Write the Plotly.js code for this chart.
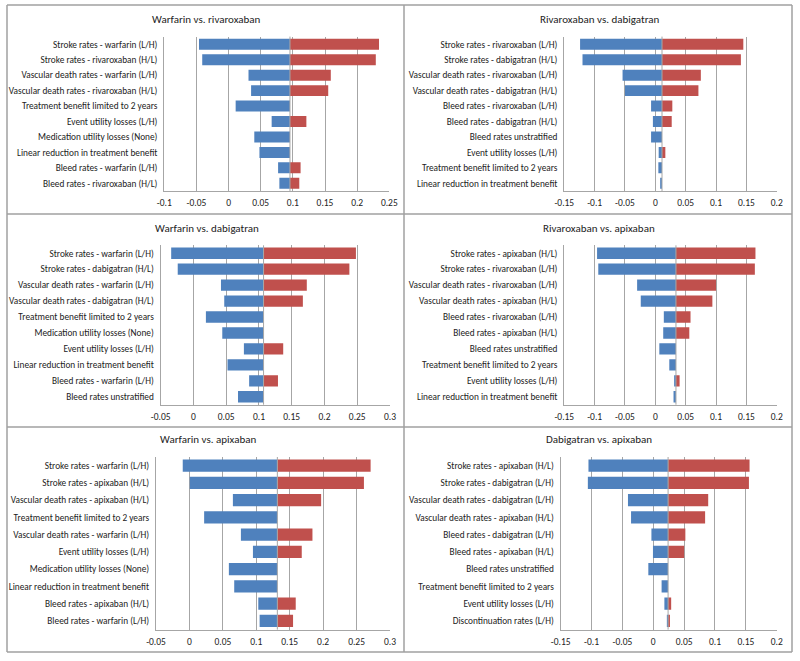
<!DOCTYPE html>
<html>
<head>
<meta charset="utf-8">
<script src="https://cdn.plot.ly/plotly-3.0.1.min.js"></script>
<style>html,body{margin:0;padding:0;background:#fff;}#chart{width:800px;height:661px;}</style>
</head>
<body>
<div id="chart"></div>
<script>
// ---------- DATA ----------
const titles = ["Warfarin vs. rivaroxaban", "Rivaroxaban vs. dabigatran", "Warfarin vs. dabigatran",
                "Rivaroxaban vs. apixaban", "Warfarin vs. apixaban", "Dabigatran vs. apixaban"];

const cats1 = ["Stroke rates - warfarin (L/H)", "Stroke rates - rivaroxaban (H/L)", "Vascular death rates - warfarin (L/H)",
  "Vascular death rates - rivaroxaban (H/L)", "Treatment benefit limited to 2 years", "Event utility losses (L/H)",
  "Medication utility losses (None)", "Linear reduction in treatment benefit", "Bleed rates - warfarin (L/H)",
  "Bleed rates - rivaroxaban (H/L)"];
const low1  = [-0.046, -0.041, 0.031, 0.035, 0.011, 0.067, 0.040, 0.048, 0.077, 0.079];
const high1 = [0.234, 0.229, 0.159, 0.155, null, 0.121, null, null, 0.112, 0.110];
const base1 = 0.0955;

const cats2 = ["Stroke rates - rivaroxaban (L/H)", "Stroke rates - dabigatran (H/L)", "Vascular death rates - rivaroxaban (L/H)",
  "Vascular death rates - dabigatran (H/L)", "Bleed rates - rivaroxaban (L/H)", "Bleed rates - dabigatran (H/L)",
  "Bleed rates unstratified", "Event utility losses (L/H)", "Treatment benefit limited to 2 years",
  "Linear reduction in treatment benefit"];
const low2  = [-0.124, -0.120, -0.054, -0.050, -0.007, -0.004, -0.007, 0.0055, 0.005, 0.008];
const high2 = [0.145, 0.141, 0.075, 0.071, 0.028, 0.027, null, 0.0165, null, null];
const base2 = 0.011;

const cats3 = ["Stroke rates - warfarin (L/H)", "Stroke rates - dabigatran (H/L)", "Vascular death rates - warfarin (L/H)",
  "Vascular death rates - dabigatran (H/L)", "Treatment benefit limited to 2 years", "Medication utility losses (None)",
  "Event utility losses (L/H)", "Linear reduction in treatment benefit", "Bleed rates - warfarin (L/H)",
  "Bleed rates unstratified"];
const low3  = [-0.034, -0.024, 0.042, 0.047, 0.019, 0.044, 0.077, 0.052, 0.085, 0.068];
const high3 = [0.248, 0.238, 0.173, 0.167, null, null, 0.137, null, 0.129, null];
const base3 = 0.107;

const cats4 = ["Stroke rates - apixaban (H/L)", "Stroke rates - rivaroxaban (L/H)", "Vascular death rates - rivaroxaban (L/H)",
  "Vascular death rates - apixaban (H/L)", "Bleed rates - rivaroxaban (L/H)", "Bleed rates - apixaban (H/L)",
  "Bleed rates unstratified", "Treatment benefit limited to 2 years", "Event utility losses (L/H)",
  "Linear reduction in treatment benefit"];
const low4  = [-0.096, -0.094, -0.030, -0.024, 0.014, 0.013, 0.0066, 0.023, 0.031, 0.030];
const high4 = [0.165, 0.164, 0.100, 0.094, 0.058, 0.056, null, null, 0.040, null];
const base4 = 0.034;

const cats5 = ["Stroke rates - warfarin (L/H)", "Stroke rates - apixaban (H/L)", "Vascular death rates - apixaban (H/L)",
  "Treatment benefit limited to 2 years", "Vascular death rates - warfarin (L/H)", "Event utility losses (L/H)",
  "Medication utility losses (None)", "Linear reduction in treatment benefit", "Bleed rates - apixaban (H/L)",
  "Bleed rates - warfarin (L/H)"];
const low5  = [-0.010, 0.0005, 0.065, 0.022, 0.077, 0.095, 0.059, 0.067, 0.103, 0.105];
const high5 = [0.271, 0.261, 0.197, null, 0.184, 0.168, null, null, 0.159, 0.155];
const base5 = 0.1315;

const cats6 = ["Stroke rates - apixaban (H/L)", "Stroke rates - dabigatran (L/H)", "Vascular death rates - dabigatran (L/H)",
  "Vascular death rates - apixaban (H/L)", "Bleed rates - dabigatran (L/H)", "Bleed rates - apixaban (H/L)",
  "Bleed rates unstratified", "Treatment benefit limited to 2 years", "Event utility losses (L/H)",
  "Discontinuation rates (L/H)"];
const low6  = [-0.105, -0.106, -0.041, -0.036, -0.003, -0.0005, -0.008, 0.0135, 0.018, 0.022];
const high6 = [0.156, 0.155, 0.089, 0.084, 0.052, 0.050, null, null, 0.029, 0.027];
const base6 = 0.024;

const ticksA = [-0.1, -0.05, 0, 0.05, 0.1, 0.15, 0.2, 0.25];
const ticksAText = ["-0.1", "-0.05", "0", "0.05", "0.1", "0.15", "0.2", "0.25"];
const ticksB = [-0.15, -0.1, -0.05, 0, 0.05, 0.1, 0.15, 0.2];
const ticksBText = ["-0.15", "-0.1", "-0.05", "0", "0.05", "0.1", "0.15", "0.2"];
const ticksC = [-0.05, 0, 0.05, 0.1, 0.15, 0.2, 0.25, 0.3];
const ticksCText = ["-0.05", "0", "0.05", "0.1", "0.15", "0.2", "0.25", "0.3"];

// ---------- LAYOUT GEOMETRY (pixels) ----------
const W = 800, H = 661;
const panels = [
  {cats: cats1, low: low1, high: high1, base: base1, range: [-0.1, 0.25], tv: ticksA, tt: ticksAText,
   px: [164.3, 389.3], py: [36.6, 191.0], title: [207, 19.5]},
  {cats: cats2, low: low2, high: high2, base: base2, range: [-0.15, 0.2], tv: ticksB, tt: ticksBText,
   px: [564.3, 776.7], py: [36.6, 191.0], title: [600, 19.5]},
  {cats: cats3, low: low3, high: high3, base: base3, range: [-0.05, 0.3], tv: ticksC, tt: ticksCText,
   px: [160.7, 390.0], py: [245.3, 404.7], title: [207.3, 228.3]},
  {cats: cats4, low: low4, high: high4, base: base4, range: [-0.15, 0.2], tv: ticksB, tt: ticksBText,
   px: [564.3, 776.7], py: [245.3, 404.7], title: [599, 228.3]},
  {cats: cats5, low: low5, high: high5, base: base5, range: [-0.05, 0.3], tv: ticksC, tt: ticksCText,
   px: [156.0, 390.0], py: [457.0, 629.6], title: [207.7, 440]},
  {cats: cats6, low: low6, high: high6, base: base6, range: [-0.15, 0.2], tv: ticksB, tt: ticksBText,
   px: [560.7, 776.7], py: [457.0, 629.6], title: [599.2, 440]}
];

const FONT = "'Carlito', 'Lato', 'Open Sans', sans-serif";
const BLUE = "#4F81BD", RED = "#C0504D";
const GRID = "#a6a6a6", BORDER = "#a0a0a0", TEXT = "#222222";

const data = [];
const layout = {
  width: W, height: H, margin: {l: 0, r: 0, t: 0, b: 0},
  paper_bgcolor: "#ffffff", plot_bgcolor: "#ffffff",
  showlegend: false, barmode: "overlay", bargap: 0.29,
  font: {family: FONT, size: 9, color: TEXT},
  annotations: [], shapes: []
};

panels.forEach((p, i) => {
  const n = i + 1;
  const xa = n === 1 ? "x" : "x" + n;
  const ya = n === 1 ? "y" : "y" + n;
  data.push({
    type: "bar", orientation: "h", xaxis: xa, yaxis: ya,
    y: p.cats, x: p.low.map(v => v - p.base), base: p.base,
    marker: {color: BLUE, line: {width: 0}}, hoverinfo: "skip"
  });
  data.push({
    type: "bar", orientation: "h", xaxis: xa, yaxis: ya,
    y: p.cats, x: p.high.map(v => v === null ? null : v - p.base), base: p.base,
    marker: {color: RED, line: {width: 0}}, hoverinfo: "skip"
  });
  const xk = n === 1 ? "xaxis" : "xaxis" + n;
  const yk = n === 1 ? "yaxis" : "yaxis" + n;
  layout[xk] = {
    domain: [p.px[0] / W, p.px[1] / W], anchor: ya, range: p.range,
    tickmode: "array", tickvals: p.tv, ticktext: p.tt,
    showgrid: true, gridcolor: GRID, gridwidth: 1, zeroline: false,
    showline: true, linecolor: GRID, linewidth: 1, ticks: "", ticklabelstandoff: 3,
    tickfont: {family: FONT, size: 9.5, color: TEXT}, fixedrange: true
  };
  layout[yk] = {
    domain: [1 - p.py[1] / H, 1 - p.py[0] / H], anchor: xa,
    type: "category", autorange: "reversed",
    showgrid: false, zeroline: false, showline: true, linecolor: GRID, linewidth: 1,
    ticks: "", ticklabelstandoff: 4,
    tickfont: {family: FONT, size: 9.3, color: TEXT}, fixedrange: true
  };
  layout.annotations.push({
    xref: "paper", yref: "paper", x: p.title[0] / W, y: 1 - p.title[1] / H,
    xanchor: "center", yanchor: "middle", showarrow: false,
    text: titles[i], font: {family: FONT, size: 11, color: TEXT, weight: 400}
  });
  // vertical axis line at the base-case value
  layout.shapes.push({
    type: "line", xref: xa, yref: ya + " domain", x0: p.base, x1: p.base, y0: 0, y1: 1,
    line: {color: GRID, width: 1}, layer: "above"
  });
});

// Panel borders (pixel positions converted to paper fractions)
function hline(y, x0, x1) {
  layout.shapes.push({type: "line", xref: "paper", yref: "paper", x0: x0 / W, x1: x1 / W,
    y0: 1 - y / H, y1: 1 - y / H, line: {color: BORDER, width: 1.5}});
}
function vline(x, y0, y1) {
  layout.shapes.push({type: "line", xref: "paper", yref: "paper", x0: x / W, x1: x / W,
    y0: 1 - y0 / H, y1: 1 - y1 / H, line: {color: BORDER, width: 1.5}});
}
hline(5, 7, 792); hline(214, 7, 792); hline(427, 7, 792); hline(652, 7, 792);
vline(7, 5, 652); vline(404, 5, 652); vline(792, 5, 652);

Plotly.newPlot("chart", data, layout, {staticPlot: true, displayModeBar: false});
</script>
</body>
</html>
